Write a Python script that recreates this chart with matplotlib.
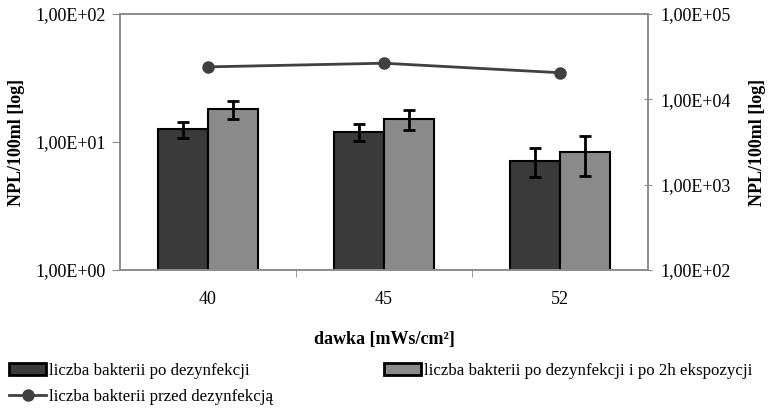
import numpy as np
import matplotlib.pyplot as plt
from matplotlib.ticker import FixedLocator, NullLocator, FuncFormatter
from matplotlib.patches import Patch
from matplotlib.lines import Line2D

dawka = ["40", "45", "52"]
po_dez = [12.6, 12.0, 7.1]
po_dez_err = [1.8, 1.8, 1.8]
po_2h = [18.0, 15.1, 8.3]
po_2h_err = [2.9, 2.8, 2.9]
przed_dez = [24000, 26500, 20500]

plt.rcParams['font.family'] = ['Liberation Serif', 'DejaVu Serif']

dark = "#3a3a3a"
light = "#8a8a8a"
axcol = "#8c8c8c"

fig = plt.figure(figsize=(7.69, 4.11), dpi=100)
ax = fig.add_axes([120/769, 1-270/411, 528/769, 256/411])
x = np.arange(len(dawka))
w = 0.284

ax.bar(x - w/2, po_dez, w, color=dark, edgecolor="black", linewidth=1.5, zorder=2)
ax.bar(x + w/2, po_2h, w, color=light, edgecolor="black", linewidth=1.5, zorder=2)
ax.errorbar(x - w/2, po_dez, yerr=po_dez_err, fmt="none", ecolor="black",
            elinewidth=2, capsize=4.5, capthick=2, zorder=3)
ax.errorbar(x + w/2, po_2h, yerr=po_2h_err, fmt="none", ecolor="black",
            elinewidth=2, capsize=4.5, capthick=2, zorder=3)

ax.set_yscale("log")
ax.set_ylim(1, 100)
ax.set_xlim(-0.5, 2.5)

fmt = FuncFormatter(lambda v, p: "1,00E+%02d" % int(round(np.log10(v))))
ax.yaxis.set_major_locator(FixedLocator([1, 10, 100]))
ax.yaxis.set_minor_locator(NullLocator())
ax.yaxis.set_major_formatter(fmt)

ax.set_xticks(x)
ax.set_xticklabels(dawka)
ax.tick_params(axis="x", which="major", length=0, pad=15, labelsize=13)
ax.set_xticks([0.5, 1.5], minor=True)
ax.tick_params(axis="x", which="minor", length=5, color=axcol, direction="out")
ax.tick_params(axis="y", length=6, color=axcol, labelsize=13, pad=4)

for s in ax.spines.values():
    s.set_color(axcol)
    s.set_linewidth(1.2)

ax.set_ylabel("NPL/100ml [log]", fontsize=13, fontweight="bold", labelpad=8)
ax.set_xlabel("dawka [mWs/cm²]", fontsize=13, fontweight="bold", labelpad=17)

ax2 = ax.twinx()
ax2.plot(x, przed_dez, color="#404040", linewidth=2, marker="o", markersize=8, zorder=4)
ax2.set_yscale("log")
ax2.set_ylim(100, 100000)
ax2.yaxis.set_major_locator(FixedLocator([100, 1000, 10000, 100000]))
ax2.yaxis.set_minor_locator(NullLocator())
ax2.yaxis.set_major_formatter(fmt)
ax2.tick_params(axis="y", length=6, color=axcol, labelsize=13, direction="inout", pad=6)
for s in ax2.spines.values():
    s.set_color(axcol)
    s.set_linewidth(1.2)
ax2.set_ylabel("NPL/100ml [log]", fontsize=13, fontweight="bold", labelpad=13)

h1 = Patch(facecolor=dark, edgecolor="black", linewidth=2)
h2 = Patch(facecolor=light, edgecolor="black", linewidth=2)
h3 = Line2D([], [], color="#404040", linewidth=2, marker="o", markersize=8)

leg_kw = dict(loc="upper left", frameon=False, fontsize=12.2, handlelength=2.2,
              handletextpad=0.15, labelspacing=0.6, borderpad=0, borderaxespad=0)
fig.legend([h1, h3], ["liczba bakterii po dezynfekcji", "liczba bakterii przed dezynfekcją"],
           bbox_to_anchor=(9/769, 1-363/411), **leg_kw)
fig.legend([h2], ["liczba bakterii po dezynfekcji i po 2h ekspozycji"],
           bbox_to_anchor=(384/769, 1-363/411), **leg_kw)

fig.savefig("out.png", dpi=100)
